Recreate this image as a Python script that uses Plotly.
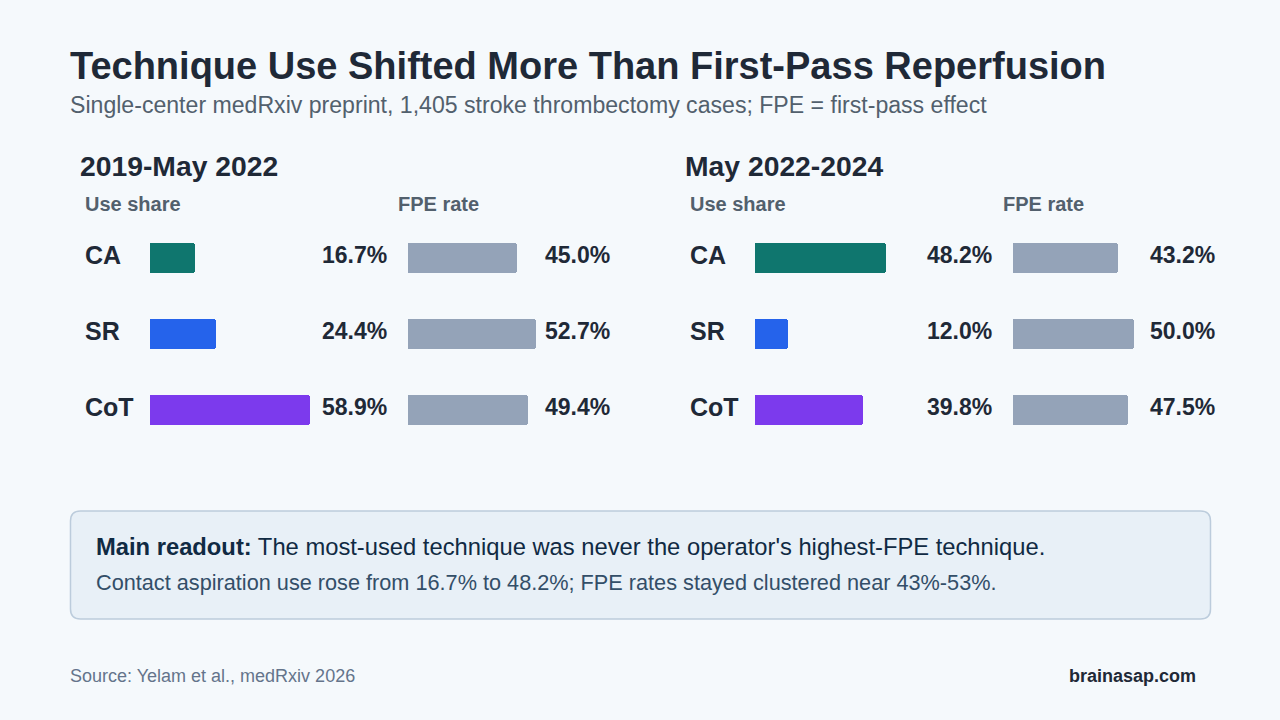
import plotly.graph_objects as go

W, H = 1280, 720

techniques = ["CA", "SR", "CoT"]
period_titles = ["2019-May 2022", "May 2022-2024"]
use_share = [[16.7, 24.4, 58.9], [48.2, 12.0, 39.8]]
fpe_rate = [[45.0, 52.7, 49.4], [43.2, 50.0, 47.5]]
tech_colors = ["#0f766e", "#2563eb", "#7c3aed"]
fpe_color = "#94a3b8"

title = "Technique Use Shifted More Than First-Pass Reperfusion"
subtitle = "Single-center medRxiv preprint, 1,405 stroke thrombectomy cases; FPE = first-pass effect"
readout_bold = "Main readout:"
readout_main = " The most-used technique was never the operator's highest-FPE technique."
readout_sub = "Contact aspiration use rose from 16.7% to 48.2%; FPE rates stayed clustered near 43%-53%."
source = "Source: Yelam et al., medRxiv 2026"
brand = "brainasap.com"

FONT = "Liberation Sans, Arial, sans-serif"
BG = "#f5f9fc"
DARK = "#1f2937"
MUTED = "#52606d"


def px(x):
    return x / W


def py(y):
    return 1 - y / H


fig = go.Figure()
annotations = []

panel_dx = 605
use_x0, use_range, use_px = 150, 60, 2.72
fpe_x0, fpe_range, fpe_px = 408, 55, 2.42

axis_idx = 0
for p in range(2):
    dx = p * panel_dx
    for kind in ("use", "fpe"):
        axis_idx += 1
        name = "xaxis" if axis_idx == 1 else f"xaxis{axis_idx}"
        ref = "x" if axis_idx == 1 else f"x{axis_idx}"
        if kind == "use":
            x0, rng, scale = use_x0 + dx, use_range, use_px
            vals = use_share[p]
            cols = tech_colors
        else:
            x0, rng, scale = fpe_x0 + dx, fpe_range, fpe_px
            vals = fpe_rate[p]
            cols = [fpe_color] * 3
        fig.add_trace(go.Bar(
            x=vals, y=techniques, orientation="h", xaxis=ref, yaxis="y",
            marker=dict(color=cols, line=dict(width=0), cornerradius=3),
            width=0.395, showlegend=False, hoverinfo="skip",
        ))
        fig.layout[name] = dict(
            domain=[px(x0), px(x0 + rng * scale)], range=[0, rng],
            visible=False, fixedrange=True, anchor="y",
        )
        lab_x = (389 if kind == "use" else 612) + dx
        for t, v in zip(techniques, vals):
            annotations.append(dict(
                x=px(lab_x), xref="paper", y=t, yref="y", yshift=3,
                text=f"<b>{v:.1f}%</b>", showarrow=False, xanchor="right", yanchor="middle",
                font=dict(family=FONT, size=23, color=DARK),
            ))
    for t in techniques:
        annotations.append(dict(
            x=px(83 + dx), xref="paper", y=t, yref="y", yshift=3,
            text=f"<b>{t}</b>", showarrow=False, xanchor="left", yanchor="middle",
            font=dict(family=FONT, size=25, color=DARK),
        ))
    annotations.append(dict(
        x=px(78 + dx), y=py(166), xref="paper", yref="paper", showarrow=False,
        text=f"<b>{period_titles[p]}</b>", xanchor="left", yanchor="middle",
        font=dict(family=FONT, size=28.3, color=DARK),
    ))
    for hx, ht in ((83, "Use share"), (396, "FPE rate")):
        annotations.append(dict(
            x=px(hx + dx), y=py(204), xref="paper", yref="paper", showarrow=False,
            text=f"<b>{ht}</b>", xanchor="left", yanchor="middle",
            font=dict(family=FONT, size=20, color=MUTED),
        ))

fig.update_layout(yaxis=dict(
    domain=[py(448), py(220)], range=[2.5, -0.5], type="category",
    categoryorder="array", categoryarray=techniques, visible=False, fixedrange=True,
))

annotations.append(dict(
    x=px(68), y=py(66), xref="paper", yref="paper", showarrow=False,
    text=f"<b>{title}</b>", xanchor="left", yanchor="middle",
    font=dict(family=FONT, size=38, color=DARK),
))
annotations.append(dict(
    x=px(68), y=py(105), xref="paper", yref="paper", showarrow=False,
    text=subtitle, xanchor="left", yanchor="middle",
    font=dict(family=FONT, size=23.1, color=MUTED),
))

# readout box
bx0, bx1, by0, by1, r = 70.5, 1210.5, 511, 619, 10
pts = [
    ("M", bx0 + r, by0), ("L", bx1 - r, by0), ("Q", bx1, by0, bx1, by0 + r),
    ("L", bx1, by1 - r), ("Q", bx1, by1, bx1 - r, by1), ("L", bx0 + r, by1),
    ("Q", bx0, by1, bx0, by1 - r), ("L", bx0, by0 + r), ("Q", bx0, by0, bx0 + r, by0),
]
path = ""
for seg in pts:
    cmd = seg[0]
    coords = seg[1:]
    parts = []
    for i in range(0, len(coords), 2):
        parts.append(f"{px(coords[i]):.6f},{py(coords[i + 1]):.6f}")
    path += cmd + " " + " ".join(parts) + " "
path += "Z"
fig.add_shape(type="path", path=path, xref="paper", yref="paper",
              fillcolor="#e8f0f7", line=dict(color="#bcccdc", width=1.5), layer="below")

annotations.append(dict(
    x=px(94), y=py(546), xref="paper", yref="paper", showarrow=False,
    text=f"<b>{readout_bold}</b>{readout_main}", xanchor="left", yanchor="middle",
    font=dict(family=FONT, size=23.75, color="#102a43"),
))
annotations.append(dict(
    x=px(94), y=py(582), xref="paper", yref="paper", showarrow=False,
    text=readout_sub, xanchor="left", yanchor="middle",
    font=dict(family=FONT, size=21.7, color="#334e68"),
))

annotations.append(dict(
    x=px(68), y=py(676), xref="paper", yref="paper", showarrow=False,
    text=source, xanchor="left", yanchor="middle",
    font=dict(family=FONT, size=18, color="#64748b"),
))
annotations.append(dict(
    x=px(1198), y=py(676), xref="paper", yref="paper", showarrow=False,
    text=f"<b>{brand}</b>", xanchor="right", yanchor="middle",
    font=dict(family=FONT, size=18, color=DARK),
))

fig.update_layout(
    width=W, height=H, margin=dict(l=0, r=0, t=0, b=0),
    paper_bgcolor=BG, plot_bgcolor="rgba(0,0,0,0)",
    annotations=annotations, bargap=0, showlegend=False,
)

fig.write_html("out.html", config={"displayModeBar": False})
